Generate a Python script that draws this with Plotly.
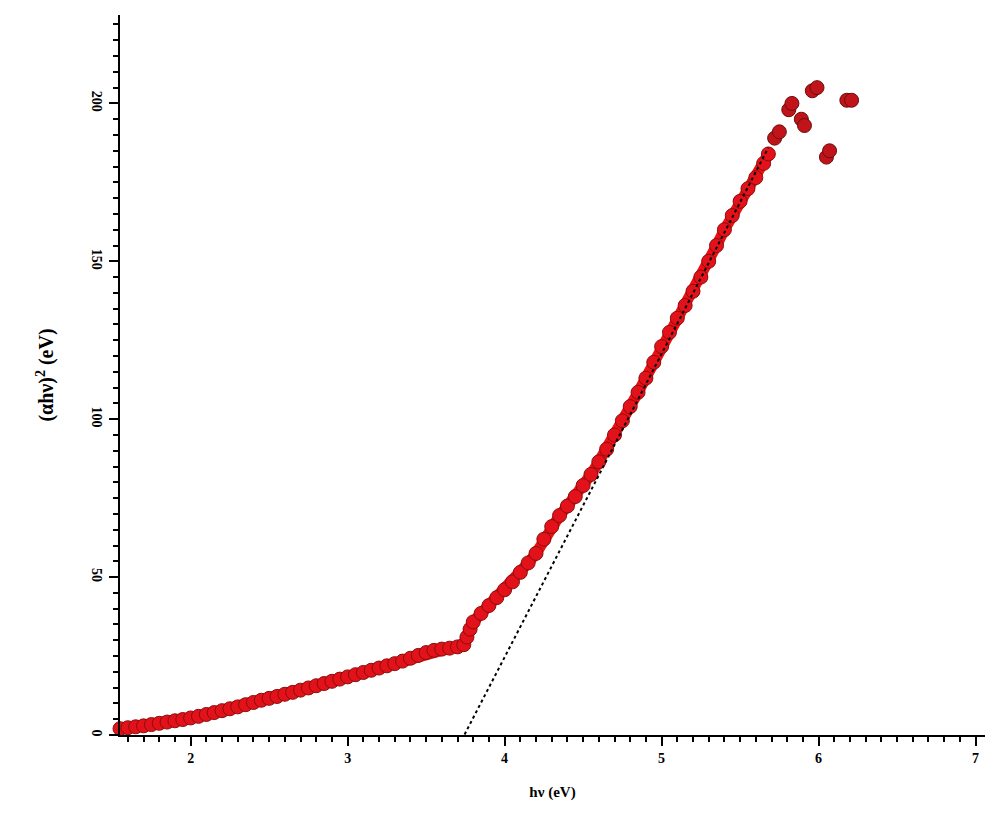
import plotly.graph_objects as go

# Main Tauc curve (photon energy in eV, (alpha h nu)^2)
energy = [1.55, 1.60, 1.65, 1.70, 1.75, 1.80, 1.85, 1.90, 1.95, 2.00,
          2.05, 2.10, 2.15, 2.20, 2.25, 2.30, 2.35, 2.40, 2.45, 2.50,
          2.55, 2.60, 2.65, 2.70, 2.75, 2.80, 2.85, 2.90, 2.95, 3.00,
          3.05, 3.10, 3.15, 3.20, 3.25, 3.30, 3.35, 3.40, 3.45, 3.50,
          3.55, 3.60, 3.65, 3.70, 3.74, 3.76, 3.78, 3.80, 3.85, 3.90,
          3.95, 4.00, 4.05, 4.10, 4.15, 4.20, 4.25, 4.30, 4.35, 4.40,
          4.45, 4.50, 4.55, 4.60, 4.65, 4.70, 4.75, 4.80, 4.85, 4.90,
          4.95, 5.00, 5.05, 5.10, 5.15, 5.20, 5.25, 5.30, 5.35, 5.40,
          5.45, 5.50, 5.55, 5.60, 5.65, 5.68]
tauc = [2.0, 2.3, 2.6, 2.9, 3.3, 3.7, 4.1, 4.5, 4.9, 5.4,
        5.9, 6.5, 7.1, 7.7, 8.3, 8.9, 9.6, 10.3, 11.0, 11.6,
        12.2, 12.9, 13.5, 14.2, 14.9, 15.6, 16.3, 17.0, 17.7, 18.4,
        19.1, 19.8, 20.5, 21.2, 21.9, 22.6, 23.4, 24.3, 25.2, 26.1,
        26.8, 27.2, 27.5, 27.9, 28.6, 31.0, 33.5, 35.8, 38.5, 41.0,
        43.5, 46.0, 48.5, 51.5, 54.5, 57.5, 62.0, 66.0, 69.5, 72.5,
        75.5, 79.0, 82.5, 86.5, 90.5, 95.0, 99.5, 104.0, 108.5, 113.0,
        118.0, 123.0, 127.5, 132.0, 136.0, 140.5, 145.0, 150.0, 155.0, 160.0,
        164.5, 169.0, 173.0, 176.5, 181.0, 184.0]

# Scattered high-energy points
tail_energy = [5.72, 5.75, 5.81, 5.83, 5.89, 5.91, 5.96, 5.99, 6.05, 6.07, 6.18, 6.21]
tail_tauc = [189, 191, 198, 200, 195, 193, 204, 205, 183, 185, 201, 201]

# Linear extrapolation (band gap fit)
fit_energy = [3.71, 5.68]
fit_tauc = [-3.2, 186.0]

x_ticks = [2, 3, 4, 5, 6, 7]
y_ticks = [0, 50, 100, 150, 200]

fig = go.Figure()
fig.add_trace(go.Scatter(
    x=energy, y=tauc, mode="lines+markers",
    line=dict(color="#ee0f12", width=11),
    marker=dict(size=14, color="#e3121a", line=dict(color="#8a0d0d", width=1)),
    showlegend=False, cliponaxis=False))
fig.add_trace(go.Scatter(
    x=tail_energy, y=tail_tauc, mode="markers",
    marker=dict(size=14, color="#c0141a", line=dict(color="#6a0d0d", width=1)),
    showlegend=False, cliponaxis=False))
fig.add_trace(go.Scatter(
    x=fit_energy, y=fit_tauc, mode="lines",
    line=dict(color="black", width=2, dash="dot"),
    showlegend=False, cliponaxis=False))

serif = "Liberation Serif"
fig.update_layout(
    width=1005, height=813,
    margin=dict(l=120, r=20, t=15, b=78),
    paper_bgcolor="white", plot_bgcolor="white",
    font=dict(family=serif, color="black"),
    xaxis=dict(
        range=[1.55, 7.06], tickvals=x_ticks, ticktext=["<b>%d</b>" % v for v in x_ticks],
        showgrid=False, zeroline=False, showline=True, linecolor="black", linewidth=2,
        ticks="outside", ticklen=9, tickwidth=2, tickcolor="black",
        minor=dict(dtick=0.1, ticks="outside", ticklen=5, tickwidth=1.5, tickcolor="black"),
        tickfont=dict(family=serif, size=14, color="black"),
        title=dict(text="<b>hν (eV)</b>", font=dict(family=serif, size=15), standoff=22),
    ),
    yaxis=dict(
        range=[0, 228], tickvals=y_ticks, ticktext=["<b>%d</b>" % v for v in y_ticks],
        showgrid=False, zeroline=False, showline=True, linecolor="black", linewidth=2,
        ticks="outside", ticklen=9, tickwidth=2, tickcolor="black",
        minor=dict(dtick=5, ticks="outside", ticklen=5, tickwidth=1.5, tickcolor="black"),
        tickangle=90,
        tickfont=dict(family=serif, size=14, color="black"),
        title=dict(text="<b>(αhν)<sup>2</sup> (eV)</b>", font=dict(family=serif, size=20), standoff=30),
    ),
)

fig.write_html("out.html")
